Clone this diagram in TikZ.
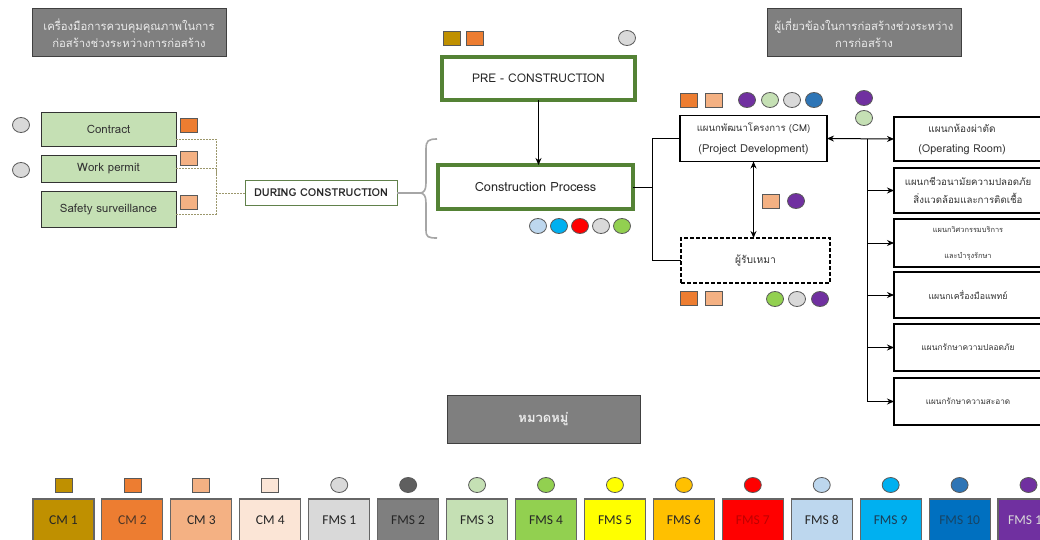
\documentclass[tikz,border=0pt]{standalone}
\usepackage{fontspec}
\setmainfont[Script=Thai]{Loma}
\newfontfamily\legendfont{Carlito}
\usetikzlibrary{arrows.meta,shapes.geometric}

% category colours
\definecolor{cmA}{HTML}{BF9000}
\definecolor{cmB}{HTML}{ED7D31}
\definecolor{cmC}{HTML}{F4B183}
\definecolor{cmD}{HTML}{FBE5D6}
\definecolor{fmsA}{HTML}{D9D9D9}
\definecolor{fmsB}{HTML}{7F7F7F}
\definecolor{fmsBdot}{HTML}{5F5F5F}
\definecolor{fmsC}{HTML}{C5E0B4}
\definecolor{fmsD}{HTML}{92D050}
\definecolor{fmsE}{HTML}{FFFF00}
\definecolor{fmsF}{HTML}{FFC000}
\definecolor{fmsG}{HTML}{FF0000}
\definecolor{fmsH}{HTML}{BDD7EE}
\definecolor{fmsI}{HTML}{00B0F0}
\definecolor{fmsJ}{HTML}{0070C0}
\definecolor{fmsJdot}{HTML}{2E75B6}
\definecolor{fmsK}{HTML}{7030A0}
\definecolor{boxgreen}{HTML}{548235}
\definecolor{headgray}{HTML}{7F7F7F}
\definecolor{toolgreen}{HTML}{C5E0B4}
\definecolor{darktext}{HTML}{262626}
\definecolor{bracegray}{HTML}{A6A6A6}

\tikzset{
  every node/.style={inner sep=0pt, outer sep=0pt},
  hdr/.style={rectangle, draw=black!75, fill=headgray, line width=1pt,
    text=white!92!black, align=center, font=\fontsize{11.3}{17}\selectfont},
  toolbox/.style={rectangle, draw=black!80, fill=toolgreen, line width=0.9pt,
    text=black!80, font=\fontsize{11.5}{13}\selectfont},
  phase/.style={rectangle, draw=boxgreen, fill=white, line width=3.2pt,
    text=darktext},
  unitbox/.style={rectangle, draw=black, fill=white, line width=1.2pt,
    text=black!80, align=center},
  sqm/.style={rectangle, draw=black!65, line width=0.8pt, minimum width=17pt, minimum height=14pt},
  dotm/.style={ellipse, draw=black!65, line width=0.8pt, minimum width=17pt, minimum height=15pt},
  conn/.style={line width=1pt, black},
  tip/.style={-{Stealth[length=7pt,width=6pt]}},
  both/.style={{Stealth[length=7pt,width=6pt]}-{Stealth[length=7pt,width=6pt]}},
  legbox/.style={rectangle, draw=black!60, line width=1.1pt, minimum width=61pt,
    minimum height=42pt, font=\legendfont\fontsize{13.5}{15}\selectfont},
}

\begin{document}
\begin{tikzpicture}[x=1pt, y=-1pt]
\useasboundingbox (0,0) rectangle (1040,540);
\clip (0,0) rectangle (1040,540);
\fill[white] (0,0) rectangle (1040,540);

% headings
\node[hdr, minimum width=194pt, minimum height=48pt] (hdrL) at (129,33)
  {เครื่องมือการควบคุมคุณภาพในการ\\ก่อสร้างช่วงระหว่างการก่อสร้าง};
\node[hdr, minimum width=194pt, minimum height=48pt] (hdrR) at (864,33)
  {ผู้เกี่ยวข้องในการก่อสร้างช่วงระหว่าง\\การก่อสร้าง};

% quality-control tools
\node[toolbox, minimum width=135pt, minimum height=34pt] (contract) at (108.5,129) {Contract};
\node[toolbox, minimum width=135pt, minimum height=27pt] (permit) at (108.5,168.5) {Work permit};
\node[toolbox, minimum width=135pt, minimum height=36pt] (safety) at (108.5,209) {Safety surveillance};

\node[dotm, fill=fmsA] (dc1) at (21,125) {};
\node[dotm, fill=fmsA] (dc2) at (21,170) {};
\node[sqm, fill=cmB] (sc1) at (189,125) {};
\node[sqm, fill=cmC] (sc2) at (189,158) {};
\node[sqm, fill=cmC] (sc3) at (189,202) {};

\node[rectangle, draw=boxgreen!70!gray, line width=0.8pt, fill=white, minimum width=152pt,
  minimum height=25pt, text=darktext, font=\bfseries\fontsize{10.9}{12}\selectfont]
  (during) at (321,193) {DURING CONSTRUCTION};

% dashed collector from the tools to the phase box
\coordinate (bus) at (216,193);
\begin{scope}[draw=black!50!olive!60, line width=0.7pt, dash pattern=on 2pt off 1pt]
  \draw ([yshift=-10pt]contract.east) -| (bus);
  \draw (permit.east) -| (bus);
  \draw ([yshift=-5pt]safety.east) -| (bus);
  \draw (bus) -- (during.west);
\end{scope}

% brace gathering the construction phases
\coordinate (cusp) at (420,193);
\draw[bracegray, line width=1.2pt] (during.east) -- (cusp);
\draw[bracegray, line width=1.6pt]
  (437,139) .. controls (428,139) and (426,141) .. (426,149) -- (426,183)
  .. controls (426,190) and (424,193) .. (cusp)
  .. controls (424,193) and (426,196) .. (426,203) -- (426,230)
  .. controls (426,237) and (428,238) .. (437,238);

% phases
\node[phase, minimum width=193pt, minimum height=43pt, font=\fontsize{12}{14}\selectfont]
  (pre) at (538.5,78.5) {PRE - CONSTRUCTION};
\node[phase, minimum width=195pt, minimum height=44pt, font=\fontsize{12.7}{14}\selectfont]
  (proc) at (535.5,187) {Construction Process};
\draw[conn, tip] (pre.south) -- (pre.south |- proc.north);

\node[sqm, fill=cmA] (pq1) at (452,38) {};
\node[sqm, fill=cmB] (pq2) at (475,38) {};
\node[dotm, fill=fmsA] (pd1) at (627,38) {};

\node[dotm, fill=fmsH] (cd1) at (538,226) {};
\node[dotm, fill=fmsI] (cd2) at (559,226) {};
\node[dotm, fill=fmsG] (cd3) at (580,226) {};
\node[dotm, fill=fmsA] (cd4) at (601,226) {};
\node[dotm, fill=fmsD] (cd5) at (622,226) {};

% parties involved
\node[unitbox, minimum width=147pt, minimum height=46pt, font=\fontsize{9.6}{21}\selectfont]
  (cm) at (753.5,138.5) {แผนกพัฒนาโครงการ (CM)\\{\fontsize{11}{13}\selectfont(Project Development)}};
\node[unitbox, dashed, dash pattern=on 4pt off 2pt, minimum width=149pt, minimum height=45pt,
  font=\fontsize{10.3}{13}\selectfont] (contractor) at (755.5,260.5) {ผู้รับเหมา};

\coordinate (split) at (652,187);
\draw[conn] (proc.east) -- (split);
\draw[conn] (cm.west) -| (split) |- (contractor.west);
\draw[conn, both] (cm.south) -- (cm.south |- contractor.north);

\node[sqm, fill=cmB] (mq1) at (689,100) {};
\node[sqm, fill=cmC] (mq2) at (714,100) {};
\node[dotm, fill=fmsK] (md1) at (747,100) {};
\node[dotm, fill=fmsC] (md2) at (770,100) {};
\node[dotm, fill=fmsA] (md3) at (792,100) {};
\node[dotm, fill=fmsJdot] (md4) at (814,100) {};

\node[sqm, fill=cmC] (aq1) at (771,201) {};
\node[dotm, fill=fmsK] (ad1) at (796,201) {};

\node[sqm, fill=cmB] (kq1) at (689,298) {};
\node[sqm, fill=cmC] (kq2) at (714,298) {};
\node[dotm, fill=fmsD] (kd1) at (775,299) {};
\node[dotm, fill=fmsA] (kd2) at (797,299) {};
\node[dotm, fill=fmsK] (kd3) at (820,299) {};

\node[dotm, fill=fmsK] (td1) at (864,98) {};
\node[dotm, fill=fmsC] (td2) at (864,118) {};

% hospital departments
\node[unitbox, minimum width=148pt, minimum height=44pt, font=\fontsize{10}{20}\selectfont]
  (r1) at (968,139) {\hspace*{-12pt}แผนกห้องผ่าตัด\\\hspace*{-12pt}{\fontsize{10.9}{12}\selectfont(Operating Room)}};
\node[unitbox, minimum width=148pt, minimum height=45pt, font=\fontsize{9.7}{18}\selectfont]
  (r2) at (968,190.5) {แผนกชีวอนามัยความปลอดภัย\\สิ่งแวดล้อมและการติดเชื้อ};
\node[unitbox, minimum width=148pt, minimum height=48pt, font=\fontsize{7.4}{26}\selectfont]
  (r3) at (968,243) {แผนกวิศวกรรมบริการ\\และบำรุงรักษา};
\node[unitbox, minimum width=148pt, minimum height=46pt, font=\fontsize{8.8}{10}\selectfont]
  (r4) at (968,295) {แผนกเครื่องมือแพทย์};
\node[unitbox, minimum width=148pt, minimum height=47pt, font=\fontsize{8.4}{10}\selectfont]
  (r5) at (968,347.5) {แผนกรักษาความปลอดภัย};
\node[unitbox, minimum width=148pt, minimum height=47pt, font=\fontsize{8.2}{10}\selectfont]
  (r6) at (968,401.5) {แผนกรักษาความสะอาด};

\draw[conn, both] (cm.east) -- (r1.west);
\coordinate (trunk) at (867,139);
\draw[conn, tip] (trunk) |- (r6.west);
\foreach \r in {r2,r3,r4,r5}
  \draw[conn, tip] (trunk |- \r.west) -- (\r.west);

% category legend
\node[hdr, minimum width=193pt, minimum height=48pt, font=\bfseries\fontsize{13}{15}\selectfont]
  (cat) at (543.5,419) {หมวดหมู่};

\foreach \i/\nm/\fc/\tc/\mc/\shp in {
   0/CM 1/cmA/darktext/cmA/sqm,
   1/CM 2/cmB/darktext!80!cmB/cmB/sqm,
   2/CM 3/cmC/darktext/cmC/sqm,
   3/CM 4/cmD/darktext/cmD/sqm,
   4/FMS 1/fmsA/darktext/fmsA/dotm,
   5/FMS 2/fmsB/darktext/fmsBdot/dotm,
   6/FMS 3/fmsC/darktext/fmsC/dotm,
   7/FMS 4/fmsD/darktext/fmsD/dotm,
   8/FMS 5/fmsE/darktext/fmsE/dotm,
   9/FMS 6/fmsF/darktext/fmsF/dotm,
   10/FMS 7/fmsG/fmsG!75!black/fmsG/dotm,
   11/FMS 8/fmsH/darktext/fmsH/dotm,
   12/FMS 9/fmsI/darktext!70!fmsJ/fmsI/dotm,
   13/FMS 10/fmsJ/darktext!60!fmsJ/fmsJdot/dotm,
   14/FMS 11/fmsK/white!85!black/fmsK/dotm} {
  \node[legbox, fill=\fc, text=\tc] (leg\i) at ({63.5+68.93*\i},520) {\nm};
  \node[\shp, fill=\mc] (key\i) at ({63.5+68.93*\i},485) {};
}
\end{tikzpicture}
\end{document}
